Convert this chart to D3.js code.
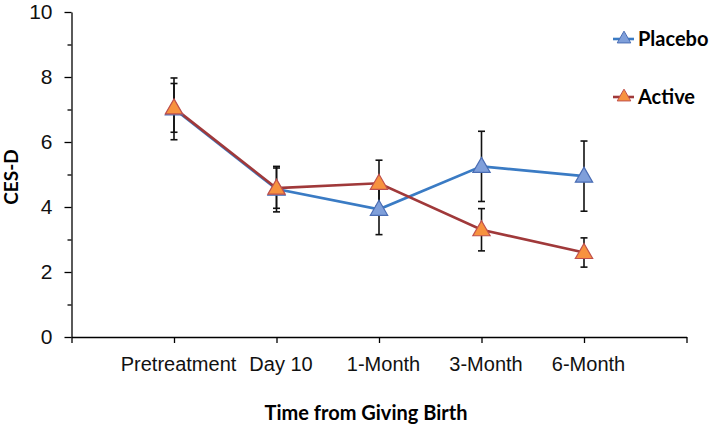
<!DOCTYPE html>
<html>
<head>
<meta charset="utf-8">
<script src="https://cdn.jsdelivr.net/npm/d3@7"></script>
<style>
    body { margin: 0; background: #fff; }
    svg { display: block; font-family: Lato, "Open Sans", sans-serif; }
</style>
</head>
<body>
<div id="chart"></div>
<script>
// time points and CES-D means / error bar half-widths
const categories = ["Pretreatment", "Day 10", "1-Month", "3-Month", "6-Month"];
const placeboMean = [7.02, 4.55, 3.93, 5.25, 4.95];
const placeboErr = [0.95, 0.70, 0.78, 1.08, 1.08];
const activeMean = [7.05, 4.58, 4.73, 3.30, 2.60];
const activeErr = [0.75, 0.62, 0.71, 0.65, 0.45];
const yTicks = [0, 2, 4, 6, 8, 10];
const yMinorTicks = [1, 3, 5, 7, 9];

const series = [
    {name: "Placebo", mean: placeboMean, err: placeboErr, line: "#3a7bc4", fill: "#7f9fda", stroke: "#4a6db4"},
    {name: "Active", mean: activeMean, err: activeErr, line: "#a0393a", fill: "#f7923f", stroke: "#c0504d"}
];

const width = 710, height = 430;
const svg = d3.select("#chart").append("svg").attr("width", width).attr("height", height);

// x: one slot per category plus an empty slot at each end
const x = d3.scaleLinear().domain([0, categories.length + 1]).range([71.5, 686.5]);
const y = d3.scaleLinear().domain([0, 10]).range([337, 12]);

// y axis, major ticks with labels
const yAxis = svg.append("g").attr("transform", "translate(" + x(0) + ",0)")
    .call(d3.axisLeft(y).tickValues(yTicks).tickSize(7).tickPadding(12).tickSizeOuter(0));
yAxis.selectAll("text").style("font-size", "21px").attr("fill", "#111");
// minor ticks
svg.append("g").attr("transform", "translate(" + x(0) + ",0)")
    .call(d3.axisLeft(y).tickValues(yMinorTicks).tickSize(4).tickFormat(""))
    .select(".domain").remove();

// x axis
const xTickValues = d3.range(0, categories.length + 2);
const xAxis = svg.append("g").attr("transform", "translate(0," + y(0) + ")")
    .call(d3.axisBottom(x).tickValues(xTickValues).tickSize(6).tickPadding(14).tickSizeOuter(0)
        .tickFormat(function (d) { return categories[d - 1] || ""; }));
xAxis.selectAll("text").style("font-size", "20px").attr("dx", 4).attr("fill", "#111");

svg.selectAll(".domain, .tick line").attr("stroke", "#000").attr("stroke-width", 1.3);

// axis titles
svg.append("text").attr("x", 366).attr("y", 420).attr("text-anchor", "middle")
    .style("font-size", "20px").style("font-weight", "bold").text("Time from Giving Birth");
svg.append("text").attr("transform", "translate(18,177) rotate(-90)").attr("text-anchor", "middle")
    .style("font-size", "19px").style("font-weight", "bold").text("CES-D");

const line = d3.line()
    .x(function (d, i) { return x(i + 1); })
    .y(function (d) { return y(d); });

const triangle = d3.symbol().type(d3.symbolTriangle).size(130);

// error bars below everything
series.forEach(function (s) {
    const g = svg.append("g");
    s.mean.forEach(function (m, i) {
        const cx = x(i + 1);
        const top = y(m + s.err[i]), bottom = y(m - s.err[i]);
        g.append("line").attr("x1", cx).attr("x2", cx).attr("y1", top).attr("y2", bottom);
        g.append("line").attr("x1", cx - 3.5).attr("x2", cx + 3.5).attr("y1", top).attr("y2", top);
        g.append("line").attr("x1", cx - 3.5).attr("x2", cx + 3.5).attr("y1", bottom).attr("y2", bottom);
    });
    g.selectAll("line").attr("stroke", "#111").attr("stroke-width", 1.6);
});

series.forEach(function (s) {
    svg.append("path").datum(s.mean).attr("d", line)
        .attr("fill", "none").attr("stroke", s.line).attr("stroke-width", 2.6);
});

series.forEach(function (s) {
    svg.append("g").selectAll("path").data(s.mean).join("path")
        .attr("d", triangle)
        .attr("transform", function (d, i) { return "translate(" + x(i + 1) + "," + (y(d) + 1) + ")"; })
        .attr("fill", s.fill).attr("stroke", s.stroke).attr("stroke-width", 1.2);
});

// legend
const legendY = [39, 97];
series.forEach(function (s, i) {
    const g = svg.append("g").attr("transform", "translate(613," + legendY[i] + ")");
    g.append("line").attr("x1", 0).attr("x2", 21).attr("y1", 0).attr("y2", 0)
        .attr("stroke", s.line).attr("stroke-width", 2.6);
    g.append("path").attr("d", d3.symbol().type(d3.symbolTriangle).size(80))
        .attr("transform", "translate(11,0)")
        .attr("fill", s.fill).attr("stroke", s.stroke).attr("stroke-width", 1);
    g.append("text").attr("x", 25).attr("dy", "0.35em")
        .style("font-size", "20px").style("font-weight", "bold").text(s.name);
});
</script>
</body>
</html>
